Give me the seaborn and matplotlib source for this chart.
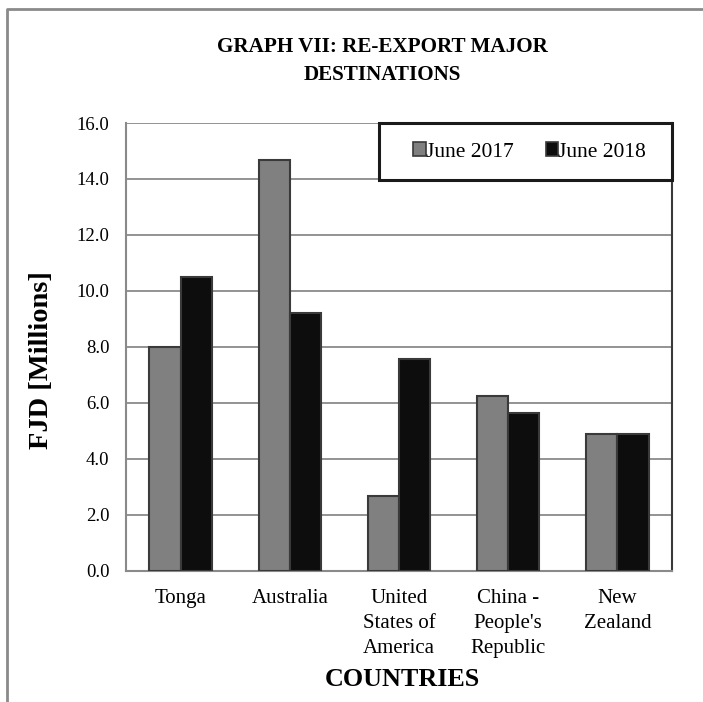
import matplotlib
matplotlib.use("Agg")
import matplotlib.pyplot as plt
from matplotlib.lines import Line2D
from matplotlib.patches import Patch, Rectangle
import seaborn as sns
import pandas as pd

countries = ["Tonga", "Australia", "United\nStates of\nAmerica", "China -\nPeople's\nRepublic", "New\nZealand"]
series = ["June 2017", "June 2018"]
june_2017 = [8.0, 14.67, 2.67, 6.23, 4.88]
june_2018 = [10.5, 9.22, 7.56, 5.62, 4.88]
yticks = [0, 2, 4, 6, 8, 10, 12, 14, 16]

df = pd.DataFrame({
    "country": countries * 2,
    "series": [series[0]] * len(countries) + [series[1]] * len(countries),
    "value": june_2017 + june_2018,
})

sns.set_theme(style="white")
plt.rcParams["font.family"] = ["Liberation Serif", "DejaVu Serif"]
for k in ["text.color", "axes.labelcolor", "xtick.labelcolor", "ytick.labelcolor"]:
    plt.rcParams[k] = "black"

W, H = 703, 702
fig = plt.figure(figsize=(W / 100, H / 100), dpi=100)
ax = fig.add_axes([126 / W, 1 - 570.5 / H, (672 - 126) / W, (570.5 - 123) / H])

colors = {"June 2017": "#808080", "June 2018": "#0d0d0d"}
sns.barplot(data=df, x="country", y="value", hue="series", palette=colors,
            width=0.57, gap=0, ax=ax, legend=False, saturation=1,
            edgecolor="#3a3a3a", linewidth=1.5, zorder=3)

ax.set_ylim(0, 16)
ax.set_xlim(-0.5, len(countries) - 0.5)
ax.set_yticks(yticks)
ax.set_yticklabels([f"{v:.1f}" for v in yticks], fontsize=13.5)
ax.yaxis.grid(True, color="#8a8a8a", linewidth=1.3, zorder=0)
ax.set_axisbelow(True)

ax.set_xticks([i - 0.5 for i in range(len(countries) + 1)], minor=False)
ax.set_xticklabels([])
ax.set_xticks(range(len(countries)), minor=True)
ax.set_xticklabels(countries, minor=True, fontsize=15, linespacing=1.45, va="top")
ax.tick_params(axis="x", which="major", direction="out", length=6, width=1.3, color="#8a8a8a")
ax.tick_params(axis="x", which="minor", length=0, pad=13)
ax.tick_params(axis="y", direction="out", length=6, width=1.3, color="#8a8a8a", pad=6)

for s in ["left", "bottom"]:
    ax.spines[s].set_color("#8a8a8a")
    ax.spines[s].set_linewidth(1.5)
ax.spines["top"].set_visible(False)
ax.spines["right"].set_color("#3a3a3a")
ax.spines["right"].set_linewidth(1.5)

ax.set_xlabel("")
ax.set_ylabel("")
fig.text(402 / W, 1 - 680 / H, "COUNTRIES", ha="center", va="center",
         fontsize=18.8, fontweight="bold")
fig.text(42 / W, 1 - 360 / H, "FJD [Millions]", rotation=90, ha="center", va="center",
         fontsize=20.5, fontweight="bold")

fig.text(382 / W, 1 - 61 / H, "GRAPH VII: RE-EXPORT MAJOR\nDESTINATIONS", ha="center", va="center",
         fontsize=15.2, fontweight="bold", linespacing=1.5)

# legend box
fig.add_artist(Rectangle((379 / W, 1 - 180 / H), (672 - 379) / W, (180 - 123) / H,
                         transform=fig.transFigure, facecolor="white", edgecolor="#1a1a1a",
                         linewidth=2.2, zorder=4))
handles = [Patch(facecolor=colors[s], edgecolor="#3a3a3a", linewidth=1.2) for s in series]
leg = fig.legend(handles, series, loc="center", bbox_to_anchor=(529.5 / W, 1 - 152 / H), ncol=2,
                 fontsize=15.5, frameon=False, handlelength=0.56, handleheight=0.56,
                 handletextpad=0.0, columnspacing=1.5, borderpad=0.0)
leg.set_zorder(6)

fig.add_artist(Line2D([6.5 / W, 6.5 / W, 1.0], [0.0, 1 - 9 / H, 1 - 9 / H],
                      transform=fig.transFigure, color="#8a8a8a", linewidth=2))

fig.savefig("out.png", dpi=100)
